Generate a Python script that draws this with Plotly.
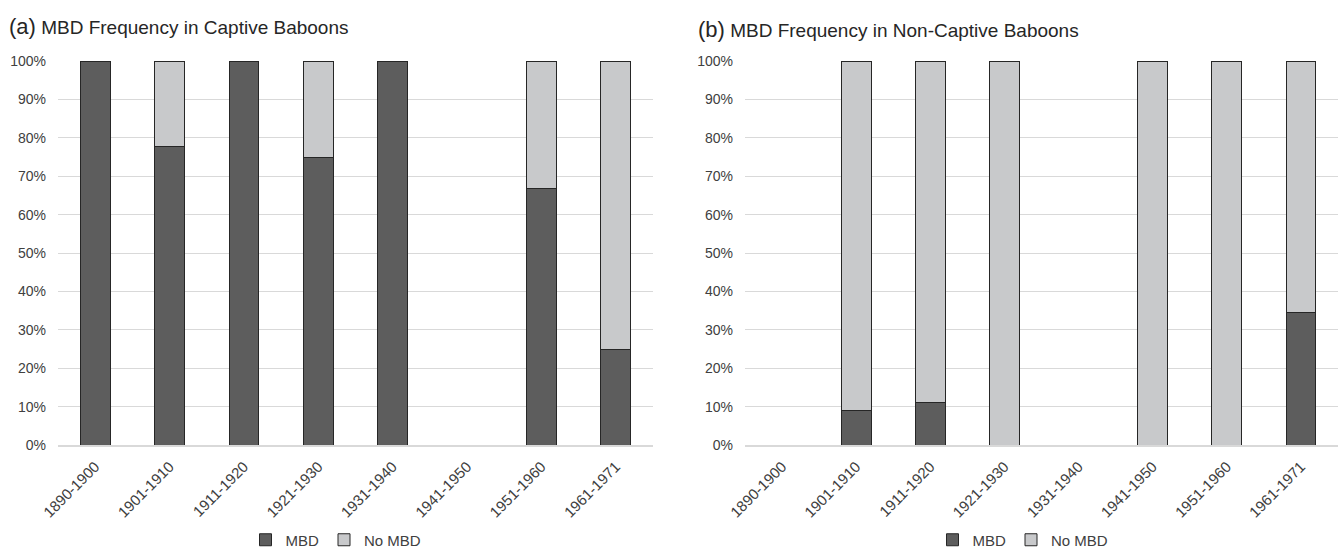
import plotly.graph_objects as go

categories = ["1890-1900", "1901-1910", "1911-1920", "1921-1930",
              "1931-1940", "1941-1950", "1951-1960", "1961-1971"]

captive_mbd = [1.0, 0.778, 1.0, 0.75, 1.0, None, 0.667, 0.25]
captive_no_mbd = [0.0, 0.222, 0.0, 0.25, 0.0, None, 0.333, 0.75]

noncaptive_mbd = [None, 0.091, 0.111, 0.0, None, 0.0, 0.0, 0.346]
noncaptive_no_mbd = [None, 0.909, 0.889, 1.0, None, 1.0, 1.0, 0.654]

series_names = ["MBD", "No MBD"]
colors = ["#5d5d5d", "#c8c9cb"]
FONT = "Liberation Sans, Arial, sans-serif"

fig = go.Figure()

def add_pair(vals_list, xa, ya, legend):
    for name, vals, col in zip(series_names, vals_list, colors):
        fig.add_trace(go.Bar(
            x=categories, y=vals, name=name, xaxis=xa, yaxis=ya,
            marker=dict(color=col, line=dict(color="#262626", width=1)),
            width=0.4, legend=legend, showlegend=True,
        ))

add_pair([captive_mbd, captive_no_mbd], "x", "y", "legend")
add_pair([noncaptive_mbd, noncaptive_no_mbd], "x2", "y2", "legend2")

W, H = 1338, 552
L, R, T, B = 58, 0, 61, 107
PW, PH = W - L - R, H - T - B

axis_common = dict(
    range=[0, 1], dtick=0.1, tickformat=".0%", showgrid=True,
    gridcolor="#d9d9d9", gridwidth=1, zeroline=False, showline=False,
    tickfont=dict(family=FONT, size=14, color="#404040"), ticks="",
    ticklabelstandoff=11,
    domain=[0, 1], fixedrange=True, automargin=False,
)
xcommon = dict(
    type="category", tickangle=-45, showgrid=False, showline=True,
    linecolor="#d9d9d9", linewidth=2, ticks="",
    tickfont=dict(family=FONT, size=15, color="#404040"),
    ticklabelstandoff=5,
    range=[-0.5, 7.5], automargin=False,
)

def px_x(px):
    return (px - L) / PW

def px_y(py):
    return (H - B - py) / PH

leg_common = dict(orientation="h", xanchor="center", yanchor="middle",
                  font=dict(family=FONT, size=15, color="#404040"),
                  itemwidth=30, traceorder="normal", tracegroupgap=0,
                  bgcolor="rgba(0,0,0,0)")

fig.update_layout(
    width=W, height=H, barmode="stack", autosize=False,
    margin=dict(l=L, r=R, t=T, b=B, autoexpand=False),
    paper_bgcolor="white", plot_bgcolor="white",
    font=dict(family=FONT, color="#404040"),
    xaxis=dict(domain=[0, px_x(653)], anchor="y", **xcommon),
    yaxis=dict(anchor="x", **axis_common),
    xaxis2=dict(domain=[px_x(745), 1.0], anchor="y2", **xcommon),
    yaxis2=dict(anchor="x2", **axis_common),
    legend=dict(x=px_x(336), y=px_y(540), **leg_common),
    legend2=dict(x=px_x(1023), y=px_y(540), **leg_common),
    annotations=[
        dict(text="<span style='font-size:22px'>(a)</span> MBD Frequency in Captive Baboons",
             xref="paper", yref="paper", x=px_x(7), y=px_y(27), xanchor="left",
             yanchor="middle", showarrow=False,
             font=dict(family=FONT, size=19, color="#262626")),
        dict(text="<span style='font-size:22px'>(b)</span> MBD Frequency in Non-Captive Baboons",
             xref="paper", yref="paper", x=px_x(696), y=px_y(30), xanchor="left",
             yanchor="middle", showarrow=False,
             font=dict(family=FONT, size=19, color="#262626")),
    ],
)

fig.write_html("out.html", config={"displayModeBar": False},
               post_script="document.body.style.margin='0px';")
